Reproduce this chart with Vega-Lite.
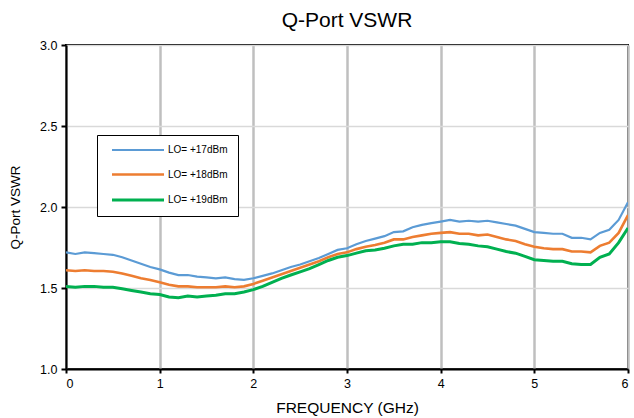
{
  "$schema": "https://vega.github.io/schema/vega-lite/v6.json",
  "autosize": {"type": "none"},
  "width": 562,
  "height": 324,
  "padding": {"left": 66, "top": 45, "right": 6, "bottom": 49},
  "background": "white",
  "config": {
    "font": "Liberation Sans",
    "view": {"stroke": "black", "strokeWidth": 2}
  },
  "title": {"text": "Q-Port VSWR", "fontSize": 21, "fontWeight": "normal", "font": "Liberation Sans", "color": "black", "offset": 8, "anchor": "middle"},
  "data": {"values": [
    {"s":"LO= +17dBm","f":0.0,"v":1.72},{"s":"LO= +17dBm","f":0.1,"v":1.71},{"s":"LO= +17dBm","f":0.2,"v":1.72},{"s":"LO= +17dBm","f":0.3,"v":1.715},{"s":"LO= +17dBm","f":0.4,"v":1.71},{"s":"LO= +17dBm","f":0.5,"v":1.705},{"s":"LO= +17dBm","f":0.6,"v":1.69},{"s":"LO= +17dBm","f":0.7,"v":1.67},{"s":"LO= +17dBm","f":0.8,"v":1.65},{"s":"LO= +17dBm","f":0.9,"v":1.63},
    {"s":"LO= +17dBm","f":1.0,"v":1.615},{"s":"LO= +17dBm","f":1.1,"v":1.595},{"s":"LO= +17dBm","f":1.2,"v":1.58},{"s":"LO= +17dBm","f":1.3,"v":1.58},{"s":"LO= +17dBm","f":1.4,"v":1.57},{"s":"LO= +17dBm","f":1.5,"v":1.565},{"s":"LO= +17dBm","f":1.6,"v":1.56},{"s":"LO= +17dBm","f":1.7,"v":1.565},{"s":"LO= +17dBm","f":1.8,"v":1.555},{"s":"LO= +17dBm","f":1.9,"v":1.55},
    {"s":"LO= +17dBm","f":2.0,"v":1.56},{"s":"LO= +17dBm","f":2.1,"v":1.575},{"s":"LO= +17dBm","f":2.2,"v":1.59},{"s":"LO= +17dBm","f":2.3,"v":1.61},{"s":"LO= +17dBm","f":2.4,"v":1.63},{"s":"LO= +17dBm","f":2.5,"v":1.645},{"s":"LO= +17dBm","f":2.6,"v":1.665},{"s":"LO= +17dBm","f":2.7,"v":1.685},{"s":"LO= +17dBm","f":2.8,"v":1.71},{"s":"LO= +17dBm","f":2.9,"v":1.735},
    {"s":"LO= +17dBm","f":3.0,"v":1.745},{"s":"LO= +17dBm","f":3.1,"v":1.77},{"s":"LO= +17dBm","f":3.2,"v":1.79},{"s":"LO= +17dBm","f":3.3,"v":1.805},{"s":"LO= +17dBm","f":3.4,"v":1.82},{"s":"LO= +17dBm","f":3.5,"v":1.845},{"s":"LO= +17dBm","f":3.6,"v":1.85},{"s":"LO= +17dBm","f":3.7,"v":1.875},{"s":"LO= +17dBm","f":3.8,"v":1.89},{"s":"LO= +17dBm","f":3.9,"v":1.9},
    {"s":"LO= +17dBm","f":4.0,"v":1.91},{"s":"LO= +17dBm","f":4.1,"v":1.92},{"s":"LO= +17dBm","f":4.2,"v":1.91},{"s":"LO= +17dBm","f":4.3,"v":1.915},{"s":"LO= +17dBm","f":4.4,"v":1.91},{"s":"LO= +17dBm","f":4.5,"v":1.915},{"s":"LO= +17dBm","f":4.6,"v":1.905},{"s":"LO= +17dBm","f":4.7,"v":1.895},{"s":"LO= +17dBm","f":4.8,"v":1.885},{"s":"LO= +17dBm","f":4.9,"v":1.865},
    {"s":"LO= +17dBm","f":5.0,"v":1.845},{"s":"LO= +17dBm","f":5.1,"v":1.84},{"s":"LO= +17dBm","f":5.2,"v":1.835},{"s":"LO= +17dBm","f":5.3,"v":1.835},{"s":"LO= +17dBm","f":5.4,"v":1.81},{"s":"LO= +17dBm","f":5.5,"v":1.81},{"s":"LO= +17dBm","f":5.6,"v":1.8},{"s":"LO= +17dBm","f":5.7,"v":1.84},{"s":"LO= +17dBm","f":5.8,"v":1.86},{"s":"LO= +17dBm","f":5.9,"v":1.92},{"s":"LO= +17dBm","f":6.0,"v":2.03},
    {"s":"LO= +18dBm","f":0.0,"v":1.61},{"s":"LO= +18dBm","f":0.1,"v":1.605},{"s":"LO= +18dBm","f":0.2,"v":1.61},{"s":"LO= +18dBm","f":0.3,"v":1.605},{"s":"LO= +18dBm","f":0.4,"v":1.605},{"s":"LO= +18dBm","f":0.5,"v":1.6},{"s":"LO= +18dBm","f":0.6,"v":1.59},{"s":"LO= +18dBm","f":0.7,"v":1.575},{"s":"LO= +18dBm","f":0.8,"v":1.56},{"s":"LO= +18dBm","f":0.9,"v":1.55},
    {"s":"LO= +18dBm","f":1.0,"v":1.535},{"s":"LO= +18dBm","f":1.1,"v":1.52},{"s":"LO= +18dBm","f":1.2,"v":1.51},{"s":"LO= +18dBm","f":1.3,"v":1.51},{"s":"LO= +18dBm","f":1.4,"v":1.505},{"s":"LO= +18dBm","f":1.5,"v":1.505},{"s":"LO= +18dBm","f":1.6,"v":1.505},{"s":"LO= +18dBm","f":1.7,"v":1.51},{"s":"LO= +18dBm","f":1.8,"v":1.505},{"s":"LO= +18dBm","f":1.9,"v":1.51},
    {"s":"LO= +18dBm","f":2.0,"v":1.525},{"s":"LO= +18dBm","f":2.1,"v":1.545},{"s":"LO= +18dBm","f":2.2,"v":1.565},{"s":"LO= +18dBm","f":2.3,"v":1.585},{"s":"LO= +18dBm","f":2.4,"v":1.605},{"s":"LO= +18dBm","f":2.5,"v":1.625},{"s":"LO= +18dBm","f":2.6,"v":1.645},{"s":"LO= +18dBm","f":2.7,"v":1.665},{"s":"LO= +18dBm","f":2.8,"v":1.69},{"s":"LO= +18dBm","f":2.9,"v":1.71},
    {"s":"LO= +18dBm","f":3.0,"v":1.72},{"s":"LO= +18dBm","f":3.1,"v":1.74},{"s":"LO= +18dBm","f":3.2,"v":1.755},{"s":"LO= +18dBm","f":3.3,"v":1.765},{"s":"LO= +18dBm","f":3.4,"v":1.78},{"s":"LO= +18dBm","f":3.5,"v":1.8},{"s":"LO= +18dBm","f":3.6,"v":1.8},{"s":"LO= +18dBm","f":3.7,"v":1.815},{"s":"LO= +18dBm","f":3.8,"v":1.825},{"s":"LO= +18dBm","f":3.9,"v":1.835},
    {"s":"LO= +18dBm","f":4.0,"v":1.84},{"s":"LO= +18dBm","f":4.1,"v":1.845},{"s":"LO= +18dBm","f":4.2,"v":1.835},{"s":"LO= +18dBm","f":4.3,"v":1.835},{"s":"LO= +18dBm","f":4.4,"v":1.825},{"s":"LO= +18dBm","f":4.5,"v":1.83},{"s":"LO= +18dBm","f":4.6,"v":1.815},{"s":"LO= +18dBm","f":4.7,"v":1.8},{"s":"LO= +18dBm","f":4.8,"v":1.79},{"s":"LO= +18dBm","f":4.9,"v":1.77},
    {"s":"LO= +18dBm","f":5.0,"v":1.755},{"s":"LO= +18dBm","f":5.1,"v":1.745},{"s":"LO= +18dBm","f":5.2,"v":1.74},{"s":"LO= +18dBm","f":5.3,"v":1.74},{"s":"LO= +18dBm","f":5.4,"v":1.725},{"s":"LO= +18dBm","f":5.5,"v":1.725},{"s":"LO= +18dBm","f":5.6,"v":1.72},{"s":"LO= +18dBm","f":5.7,"v":1.76},{"s":"LO= +18dBm","f":5.8,"v":1.78},{"s":"LO= +18dBm","f":5.9,"v":1.84},{"s":"LO= +18dBm","f":6.0,"v":1.95},
    {"s":"LO= +19dBm","f":0.0,"v":1.51},{"s":"LO= +19dBm","f":0.1,"v":1.505},{"s":"LO= +19dBm","f":0.2,"v":1.51},{"s":"LO= +19dBm","f":0.3,"v":1.51},{"s":"LO= +19dBm","f":0.4,"v":1.505},{"s":"LO= +19dBm","f":0.5,"v":1.505},{"s":"LO= +19dBm","f":0.6,"v":1.495},{"s":"LO= +19dBm","f":0.7,"v":1.485},{"s":"LO= +19dBm","f":0.8,"v":1.475},{"s":"LO= +19dBm","f":0.9,"v":1.465},
    {"s":"LO= +19dBm","f":1.0,"v":1.46},{"s":"LO= +19dBm","f":1.1,"v":1.445},{"s":"LO= +19dBm","f":1.2,"v":1.44},{"s":"LO= +19dBm","f":1.3,"v":1.45},{"s":"LO= +19dBm","f":1.4,"v":1.445},{"s":"LO= +19dBm","f":1.5,"v":1.45},{"s":"LO= +19dBm","f":1.6,"v":1.455},{"s":"LO= +19dBm","f":1.7,"v":1.465},{"s":"LO= +19dBm","f":1.8,"v":1.465},{"s":"LO= +19dBm","f":1.9,"v":1.475},
    {"s":"LO= +19dBm","f":2.0,"v":1.49},{"s":"LO= +19dBm","f":2.1,"v":1.51},{"s":"LO= +19dBm","f":2.2,"v":1.535},{"s":"LO= +19dBm","f":2.3,"v":1.56},{"s":"LO= +19dBm","f":2.4,"v":1.58},{"s":"LO= +19dBm","f":2.5,"v":1.6},{"s":"LO= +19dBm","f":2.6,"v":1.62},{"s":"LO= +19dBm","f":2.7,"v":1.645},{"s":"LO= +19dBm","f":2.8,"v":1.67},{"s":"LO= +19dBm","f":2.9,"v":1.69},
    {"s":"LO= +19dBm","f":3.0,"v":1.7},{"s":"LO= +19dBm","f":3.1,"v":1.715},{"s":"LO= +19dBm","f":3.2,"v":1.73},{"s":"LO= +19dBm","f":3.3,"v":1.735},{"s":"LO= +19dBm","f":3.4,"v":1.745},{"s":"LO= +19dBm","f":3.5,"v":1.76},{"s":"LO= +19dBm","f":3.6,"v":1.77},{"s":"LO= +19dBm","f":3.7,"v":1.77},{"s":"LO= +19dBm","f":3.8,"v":1.78},{"s":"LO= +19dBm","f":3.9,"v":1.78},
    {"s":"LO= +19dBm","f":4.0,"v":1.785},{"s":"LO= +19dBm","f":4.1,"v":1.785},{"s":"LO= +19dBm","f":4.2,"v":1.775},{"s":"LO= +19dBm","f":4.3,"v":1.77},{"s":"LO= +19dBm","f":4.4,"v":1.76},{"s":"LO= +19dBm","f":4.5,"v":1.755},{"s":"LO= +19dBm","f":4.6,"v":1.74},{"s":"LO= +19dBm","f":4.7,"v":1.725},{"s":"LO= +19dBm","f":4.8,"v":1.715},{"s":"LO= +19dBm","f":4.9,"v":1.695},
    {"s":"LO= +19dBm","f":5.0,"v":1.675},{"s":"LO= +19dBm","f":5.1,"v":1.67},{"s":"LO= +19dBm","f":5.2,"v":1.665},{"s":"LO= +19dBm","f":5.3,"v":1.665},{"s":"LO= +19dBm","f":5.4,"v":1.65},{"s":"LO= +19dBm","f":5.5,"v":1.645},{"s":"LO= +19dBm","f":5.6,"v":1.645},{"s":"LO= +19dBm","f":5.7,"v":1.69},{"s":"LO= +19dBm","f":5.8,"v":1.71},{"s":"LO= +19dBm","f":5.9,"v":1.78},{"s":"LO= +19dBm","f":6.0,"v":1.87}
  ]},
  "mark": {"type": "line", "clip": true},
  "encoding": {
    "x": {
      "field": "f", "type": "quantitative",
      "scale": {"domain": [0, 6], "nice": false, "zero": false},
      "axis": {
        "title": "FREQUENCY (GHz)", "titleFontSize": 15.5, "titleFontWeight": "normal", "titleColor": "black", "titlePadding": 11,
        "values": [0, 1, 2, 3, 4, 5, 6], "format": "d",
        "labelFontSize": 12.5, "labelColor": "black", "labelPadding": 4,
        "domainColor": "black", "domainWidth": 2,
        "tickColor": "black", "tickSize": 4, "tickWidth": 2,
        "grid": true, "gridColor": "#bfbfbf", "gridWidth": 2.5
      }
    },
    "y": {
      "field": "v", "type": "quantitative",
      "scale": {"domain": [1, 3], "nice": false, "zero": false},
      "axis": {
        "title": "Q-Port VSWR", "titleFontSize": 13.5, "titleFontWeight": "normal", "titleColor": "black", "titlePadding": 17,
        "values": [1, 1.5, 2, 2.5, 3], "format": ".1f",
        "labelFontSize": 12.5, "labelColor": "black", "labelPadding": 4,
        "domainColor": "black", "domainWidth": 2,
        "tickColor": "black", "tickSize": 5, "tickWidth": 2,
        "grid": true, "gridColor": "#d9d9d9", "gridWidth": 1.5
      }
    },
    "color": {
      "field": "s", "type": "nominal",
      "scale": {"domain": ["LO= +17dBm", "LO= +18dBm", "LO= +19dBm"], "range": ["#5B9BD5", "#ED7D31", "#00B050"]},
      "legend": {
        "title": null, "orient": "none", "legendX": 31, "legendY": 90,
        "strokeColor": "black", "fillColor": "white", "padding": 10,
        "symbolType": "M0,0H26", "symbolSize": 16, "symbolStrokeWidth": 2.5,
        "labelFontSize": 10, "labelColor": "black", "labelOffset": 51,
        "rowPadding": 13.5
      }
    },
    "strokeWidth": {
      "field": "s", "type": "nominal",
      "scale": {"domain": ["LO= +17dBm", "LO= +18dBm", "LO= +19dBm"], "range": [2.2, 3, 3.2]},
      "legend": null
    }
  }
}
